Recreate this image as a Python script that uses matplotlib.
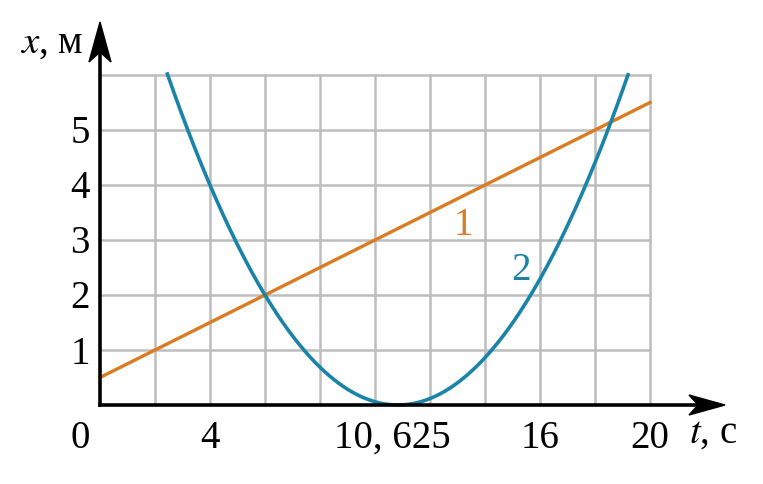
import matplotlib.pyplot as plt
import numpy as np
from matplotlib.patches import Polygon

plt.rcParams['font.family'] = ['Liberation Serif', 'DejaVu Serif']

# line 1: x = x0 + v*t
line_t = [0, 20]
line_x = [0.5, 5.5]

# curve 2: x = a*(t - t_min)^2
t_min = 10.83
a = 0.0857
curve_t = np.linspace(2.45, 19.2, 200)
curve_x = a * (curve_t - t_min) ** 2

xticks = [0, 4, 10.625, 16, 20]
xtick_labels = ['0', '4', '10, 625', '16', '20']
yticks = [1, 2, 3, 4, 5]

orange = '#DC7A20'
teal = '#1A84A8'

fig = plt.figure(figsize=(7.63, 4.84), dpi=100)
ax = fig.add_axes([0, 0, 1, 1])
# 27.5 px per second, 55 px per metre; origin at (100, 405) px
ax.set_xlim(-100 / 27.5, 663 / 27.5)
ax.set_ylim(-79 / 55, 405 / 55)
ax.axis('off')

# grid
for t in range(2, 21, 2):
    ax.plot([t, t], [0, 6], color='#BDBDBD', lw=1.8, zorder=1)
for y in range(1, 7):
    ax.plot([0, 20], [y, y], color='#BDBDBD', lw=1.8, zorder=1)

ax.plot(line_t, line_x, color=orange, lw=2.4, zorder=3)
ax.plot(curve_t, curve_x, color=teal, lw=2.6, zorder=3)

# axes with arrows
ax.plot([0, 0], [0, 383 / 55 - 0.5], color='black', lw=2.6, zorder=4)
ax.plot([0, 600 / 27.5], [0, 0], color='black', lw=2.6, zorder=4)

def px(dx, dy):
    return dx / 27.5, dy / 55

tip = (0, 383 / 55)
pts = [(0, 0), (-11, -40), (0, -30), (11, -40)]
ax.add_patch(Polygon([(tip[0] + px(u, v)[0], tip[1] + px(u, v)[1]) for u, v in pts],
                     closed=True, color='black', zorder=5))
tip = (625 / 27.5, 0)
pts = [(0, 0), (-36, 10), (-27, 0), (-36, -10)]
ax.add_patch(Polygon([(tip[0] + px(u, v)[0], tip[1] + px(u, v)[1]) for u, v in pts],
                     closed=True, color='black', zorder=5))

fs = 28
for t, lab in zip(xticks, xtick_labels):
    ax.text(t if t else -20 / 27.5, -33 / 55, lab, fontsize=fs, ha='center', va='center')
for y in yticks:
    ax.text(-20 / 27.5, y - 4 / 55, str(y), fontsize=fs, ha='center', va='center')

ax.text(-48 / 27.5, 362 / 55, r'$x$, м', fontsize=28, ha='center', va='center',
        math_fontfamily='stix')
ax.text(613 / 27.5, -28 / 55, r'$t$, с', fontsize=28, ha='center', va='center',
        math_fontfamily='stix')

ax.text(13.2, 3.27, '1', fontsize=fs, color=orange, ha='center', va='center')
ax.text(15.3, 2.45, '2', fontsize=fs, color=teal, ha='center', va='center')

fig.savefig('out.png', dpi=100)
